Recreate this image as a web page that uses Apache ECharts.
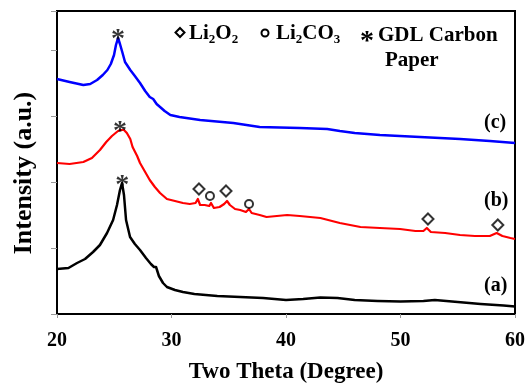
<!DOCTYPE html>
<html>
<head>
<meta charset="utf-8">
<script src="https://cdn.jsdelivr.net/npm/echarts@6/dist/echarts.min.js"></script>
<style>
  html, body { margin: 0; padding: 0; background: #fff; }
  #chart { width: 527px; height: 383px; }
</style>
</head>
<body>
<div id="chart"></div>
<script>
// x range / ticks
const xTicks = [20, 30, 40, 50, 60];

// (a) GDL carbon paper
const thetaA = [20, 21, 21.75, 22.45, 23.15, 23.75, 24.37, 24.9, 25.24, 25.5, 25.68, 25.85, 26.03, 26.38, 26.8, 27.25, 27.77, 28.2, 28.47, 28.65, 28.9, 29.26, 29.6, 30.3, 31, 32, 34, 36, 38, 40, 41.5, 43, 44.5, 46, 48, 50, 52, 53, 55, 57, 59, 60];
const intensityA = [45, 46, 51, 55, 62, 69, 81, 94, 109, 124, 131, 119, 94, 77, 70, 64, 56, 50, 47, 47, 38, 31, 27, 24, 22, 20, 18, 17, 16, 14, 15, 16.5, 16, 14, 13, 12.5, 13, 14, 12, 10, 8.5, 7.5];

// (b)
const thetaB = [20, 21.1, 22.3, 23.05, 23.75, 24.3, 24.8, 25.33, 25.6, 25.85, 26.1, 26.4, 26.6, 27, 27.25, 27.7, 28.1, 28.55, 29, 29.6, 30.3, 31, 31.6, 32.1, 32.3, 32.5, 32.9, 33.3, 33.45, 33.7, 34.2, 34.6, 34.85, 35.1, 35.55, 36, 36.5, 36.77, 37, 37.7, 38.3, 40.1, 41.2, 43, 44.7, 46.5, 48.2, 49.96, 51.3, 52, 52.3, 52.65, 53.9, 55.2, 56.5, 57.8, 58.4, 58.9, 59.6, 60];
const intensityB = [151, 150, 152, 156, 164, 172, 178, 183, 184, 184, 181, 175, 167, 158, 151, 142, 134, 127, 121, 115, 113, 111, 110, 111, 115, 109, 109, 108, 111, 106, 107, 110, 113, 109, 105, 104, 102, 105, 101, 99, 97, 99, 98, 96, 91, 87, 86, 85, 83, 83, 86, 82, 81, 79, 78, 78, 81, 78, 76, 75];

// (c)
const thetaC = [20, 21.1, 22.3, 22.9, 23.5, 24, 24.4, 24.7, 24.98, 25.15, 25.33, 25.5, 25.7, 25.94, 26.4, 26.8, 27.25, 27.7, 28.1, 28.4, 28.7, 29, 29.4, 29.9, 30.7, 32.5, 35.4, 37.7, 41.2, 43.6, 44.7, 46, 48.2, 51.7, 55.2, 57.8, 60];
const intensityC = [235, 232, 229, 230, 234, 239, 244, 250, 259, 269, 276, 270, 262, 252, 244, 238, 231, 223, 217, 215, 210, 207, 203, 199, 197, 194, 191, 187, 186, 185, 183, 181, 179, 177, 175, 173, 171];

// phase markers
const li2o2Theta = [32.4, 34.76, 52.4, 58.5];
const li2o2Y = [125, 123, 95, 89];
const li2co3Theta = [33.36, 36.77];
const li2co3Y = [118, 110];
const carbonTheta = [25.33, 25.5, 25.7];
const carbonY = [276, 184, 130];

const zip = (xs, ys) => xs.map((x, i) => [x, ys[i]]);
const serif = '"Liberation Serif", "Times New Roman", serif';

const chart = echarts.init(document.getElementById('chart'));

const lineSeries = (data, color, w) => ({
  type: 'line',
  data: data,
  showSymbol: false,
  lineStyle: { color: color, width: w, join: 'round' },
  z: 2
});

const subRich = {
  a: { fontFamily: serif, fontWeight: 'bold', fontSize: 21, fill: '#000', lineHeight: 24 },
  s: { fontFamily: serif, fontWeight: 'bold', fontSize: 13, fill: '#000', padding: [12, 0, 0, 0] }
};

const option = {
  animation: false,
  grid: {
    left: 57, right: 12, top: 11, bottom: 69,
    outerBoundsMode: 'none',
    containLabel: false,
    show: true, borderColor: '#000', borderWidth: 2
  },
  xAxis: {
    type: 'value',
    min: 20, max: 60, interval: 10,
    name: 'Two Theta (Degree)',
    nameLocation: 'middle',
    nameGap: 47,
    nameTextStyle: { fontFamily: serif, fontWeight: 'bold', fontSize: 23, color: '#000' },
    axisLine: { lineStyle: { color: '#000', width: 2 } },
    axisTick: { length: 4, lineStyle: { color: '#999' } },
    axisLabel: {
      fontFamily: serif, fontWeight: 'bold', fontSize: 20, color: '#000', margin: 17,
      formatter: v => xTicks.includes(v) ? String(v) : ''
    },
    splitLine: { show: false }
  },
  yAxis: {
    type: 'value',
    min: 0, max: 303, interval: 66,
    axisLine: { show: true, lineStyle: { color: '#000', width: 2 } },
    axisTick: { show: true, length: 6, lineStyle: { color: '#999' } },
    axisLabel: { show: false },
    splitLine: { show: false }
  },
  series: [
    lineSeries(zip(thetaA, intensityA), '#000000', 2.5),
    lineSeries(zip(thetaB, intensityB), '#ff0000', 2.2),
    lineSeries(zip(thetaC, intensityC), '#0000ff', 2.5),
    {
      type: 'scatter',
      data: zip(li2o2Theta, li2o2Y),
      symbol: 'diamond',
      symbolSize: [11, 11],
      itemStyle: { color: '#fff', borderColor: '#000', borderWidth: 2 },
      z: 3
    },
    {
      type: 'scatter',
      data: zip(li2co3Theta, li2co3Y),
      symbol: 'circle',
      symbolSize: 8,
      itemStyle: { color: '#fff', borderColor: '#000', borderWidth: 2 },
      z: 3
    },
    {
      type: 'scatter',
      data: zip(carbonTheta, carbonY),
      symbolSize: 0,
      label: {
        show: true, position: 'inside', formatter: '*',
        fontFamily: serif, fontWeight: 'bold', fontSize: 28, color: '#000',
        offset: [0, 2]
      },
      z: 3
    }
  ],
  graphic: [
    // y axis title
    { type: 'text', x: 24, y: 173, rotation: Math.PI / 2,
      style: { text: 'Intensity (a.u.)', font: 'bold 26px ' + serif, fill: '#000',
               align: 'center', verticalAlign: 'middle' } },
    // legend
    { type: 'polygon', shape: { points: [[180, 28], [184.5, 32.5], [180, 37], [175.5, 32.5]] },
      style: { fill: '#fff', stroke: '#000', lineWidth: 2 } },
    { type: 'text', left: 189, top: 23,
      style: { text: '{a|Li}{s|2}{a|O}{s|2}', rich: subRich } },
    { type: 'circle', shape: { cx: 265, cy: 33, r: 3.5 },
      style: { fill: '#fff', stroke: '#000', lineWidth: 2 } },
    { type: 'text', left: 276, top: 23,
      style: { text: '{a|Li}{s|2}{a|CO}{s|3}', rich: subRich } },
    { type: 'text', left: 360, top: 28,
      style: { text: '*', font: 'bold 28px ' + serif, fill: '#000' } },
    { type: 'text', left: 378, top: 25,
      style: { text: 'GDL Carbon', font: 'bold 21px ' + serif, fill: '#000' } },
    { type: 'text', left: 385, top: 50,
      style: { text: 'Paper', font: 'bold 21px ' + serif, fill: '#000' } },
    // curve labels
    { type: 'text', left: 484, top: 113,
      style: { text: '(c)', font: 'bold 20px ' + serif, fill: '#000' } },
    { type: 'text', left: 484, top: 191,
      style: { text: '(b)', font: 'bold 20px ' + serif, fill: '#000' } },
    { type: 'text', left: 484, top: 276,
      style: { text: '(a)', font: 'bold 20px ' + serif, fill: '#000' } }
  ]
};

chart.setOption(option);
</script>
</body>
</html>
